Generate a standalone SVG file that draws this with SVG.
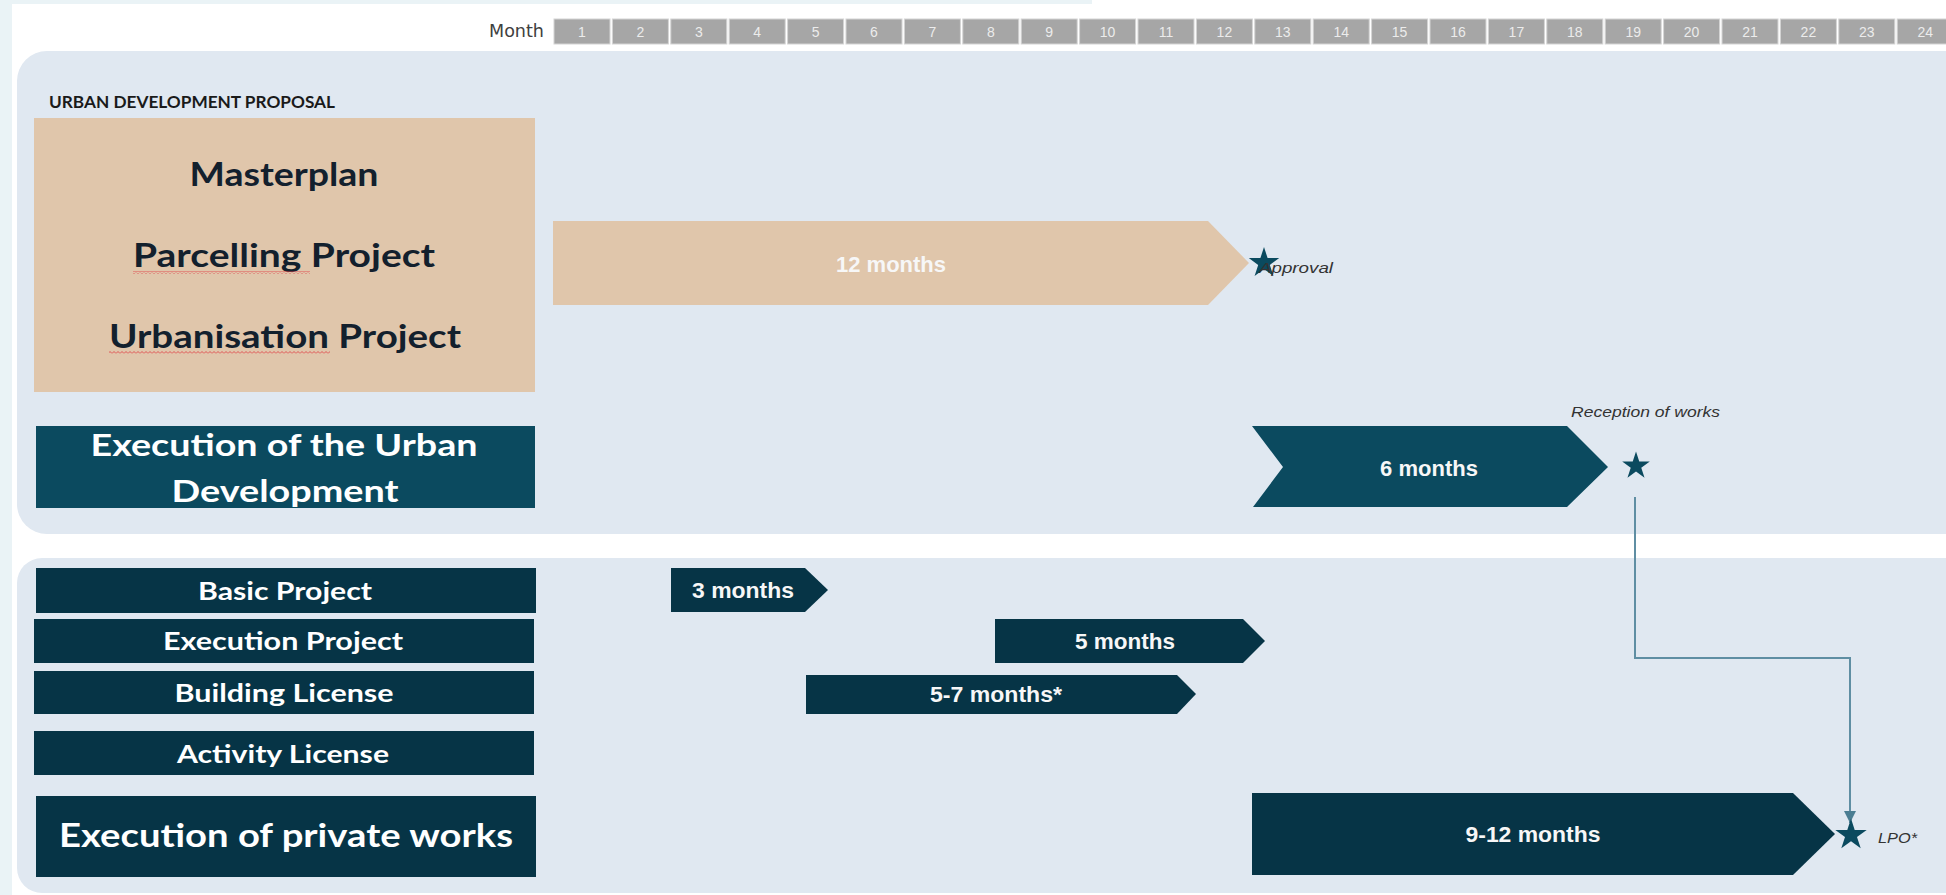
<svg xmlns="http://www.w3.org/2000/svg" width="1946" height="895" viewBox="0 0 1946 895">
<style>
.panel{fill:#e0e8f1}
.mbox{fill:#a6a6a6;stroke:#d4d4d4;stroke-width:1}
.mnum{font-family:"Liberation Sans",Arial,sans-serif;font-size:14px;fill:#ececec;text-anchor:middle}
.lbl{font-family:Lato,"Open Sans",sans-serif;font-weight:bold;text-anchor:middle}
.dark{fill:#063446}
.teal{fill:#0b4a5f}
.tan{fill:#e0c6ab}
.wt{fill:#ffffff}
.bt{fill:#13202d}
.bar{font-family:"Liberation Sans",Arial,sans-serif;font-weight:bold;font-size:22px;fill:#f7f7f7;text-anchor:middle}
.note{font-family:"Liberation Sans",Arial,sans-serif;font-style:italic;font-size:15px;fill:#333333}
.star{fill:#0b4a5f}
.conn{fill:none;stroke:#5f8ea3;stroke-width:2}
</style>
<defs>
<path id="starShape" d="M0,-10 L2.245,-3.09 L9.511,-3.09 L3.633,1.18 L5.878,8.09 L0,3.82 L-5.878,8.09 L-3.633,1.18 L-9.511,-3.09 L-2.245,-3.09 Z"/>
<marker id="arr" markerUnits="userSpaceOnUse" markerWidth="12" markerHeight="12" refX="12" refY="6" orient="auto">
<path d="M0,0 L12,6 L0,12 Z" fill="#4a7d92"/>
</marker>
<pattern id="squig" patternUnits="userSpaceOnUse" width="4" height="3">
<path d="M0,2.5 L2,0.5 L4,2.5" fill="none" stroke="#e0474a" stroke-width="0.9"/>
</pattern>
</defs>
<rect x="0" y="0" width="1946" height="895" fill="#ffffff"/>
<rect x="0" y="0" width="1092" height="4" fill="#eaf3f6"/>
<rect x="0" y="0" width="12" height="895" fill="#eaf3f6"/>
<rect class="panel" x="17" y="51" width="1960" height="483" rx="30" ry="30"/>
<rect class="panel" x="17" y="558" width="1960" height="335" rx="25" ry="25"/>

<g id="months">
<text x="544" y="37" text-anchor="end" font-family="'DejaVu Sans Condensed','Liberation Sans',sans-serif" font-size="18" fill="#404040" textLength="55" lengthAdjust="spacingAndGlyphs">Month</text>
<rect class="mbox" x="554" y="19" width="56" height="25"/><text class="mnum" x="582" y="37">1</text>
<rect class="mbox" x="612.4" y="19" width="56" height="25"/><text class="mnum" x="640.4" y="37">2</text>
<rect class="mbox" x="670.8" y="19" width="56" height="25"/><text class="mnum" x="698.8" y="37">3</text>
<rect class="mbox" x="729.2" y="19" width="56" height="25"/><text class="mnum" x="757.2" y="37">4</text>
<rect class="mbox" x="787.6" y="19" width="56" height="25"/><text class="mnum" x="815.6" y="37">5</text>
<rect class="mbox" x="846" y="19" width="56" height="25"/><text class="mnum" x="874" y="37">6</text>
<rect class="mbox" x="904.4" y="19" width="56" height="25"/><text class="mnum" x="932.4" y="37">7</text>
<rect class="mbox" x="962.8" y="19" width="56" height="25"/><text class="mnum" x="990.8" y="37">8</text>
<rect class="mbox" x="1021.2" y="19" width="56" height="25"/><text class="mnum" x="1049.2" y="37">9</text>
<rect class="mbox" x="1079.6" y="19" width="56" height="25"/><text class="mnum" x="1107.6" y="37">10</text>
<rect class="mbox" x="1138" y="19" width="56" height="25"/><text class="mnum" x="1166" y="37">11</text>
<rect class="mbox" x="1196.4" y="19" width="56" height="25"/><text class="mnum" x="1224.4" y="37">12</text>
<rect class="mbox" x="1254.8" y="19" width="56" height="25"/><text class="mnum" x="1282.8" y="37">13</text>
<rect class="mbox" x="1313.2" y="19" width="56" height="25"/><text class="mnum" x="1341.2" y="37">14</text>
<rect class="mbox" x="1371.6" y="19" width="56" height="25"/><text class="mnum" x="1399.6" y="37">15</text>
<rect class="mbox" x="1430" y="19" width="56" height="25"/><text class="mnum" x="1458" y="37">16</text>
<rect class="mbox" x="1488.4" y="19" width="56" height="25"/><text class="mnum" x="1516.4" y="37">17</text>
<rect class="mbox" x="1546.8" y="19" width="56" height="25"/><text class="mnum" x="1574.8" y="37">18</text>
<rect class="mbox" x="1605.2" y="19" width="56" height="25"/><text class="mnum" x="1633.2" y="37">19</text>
<rect class="mbox" x="1663.6" y="19" width="56" height="25"/><text class="mnum" x="1691.6" y="37">20</text>
<rect class="mbox" x="1722" y="19" width="56" height="25"/><text class="mnum" x="1750" y="37">21</text>
<rect class="mbox" x="1780.4" y="19" width="56" height="25"/><text class="mnum" x="1808.4" y="37">22</text>
<rect class="mbox" x="1838.8" y="19" width="56" height="25"/><text class="mnum" x="1866.8" y="37">23</text>
<rect class="mbox" x="1897.2" y="19" width="56" height="25"/><text class="mnum" x="1925.2" y="37">24</text>
</g>

<g id="section-title">
<text x="49" y="108" font-family="Lato,'Open Sans',sans-serif" font-weight="bold" font-size="17" fill="#1a1a1a" textLength="286" lengthAdjust="spacingAndGlyphs">URBAN DEVELOPMENT PROPOSAL</text>
</g>

<g id="node-proposal">
<rect class="tan" x="34" y="118" width="501" height="274"/>
<text class="lbl bt" x="284" y="186" font-size="33" textLength="189" lengthAdjust="spacingAndGlyphs">Masterplan</text>
<text class="lbl bt" x="284" y="267" font-size="33" textLength="302" lengthAdjust="spacingAndGlyphs">Parcelling Project</text>
<text class="lbl bt" x="285" y="348" font-size="33" textLength="352" lengthAdjust="spacingAndGlyphs">Urbanisation Project</text>
<rect x="133" y="271" width="177" height="3" fill="url(#squig)"/>
<rect x="109" y="351" width="221" height="3" fill="url(#squig)"/>
</g>

<g id="node-exec-urban">
<rect class="teal" x="36" y="426" width="499" height="82"/>
<text class="lbl wt" x="284" y="456" font-size="31" textLength="387" lengthAdjust="spacingAndGlyphs">Execution of the Urban</text>
<text class="lbl wt" x="285" y="502" font-size="31" textLength="227" lengthAdjust="spacingAndGlyphs">Development</text>
</g>

<g id="node-basic">
<rect class="dark" x="36" y="568" width="500" height="45"/>
<text class="lbl wt" x="285" y="600" font-size="24" textLength="174" lengthAdjust="spacingAndGlyphs">Basic Project</text>
</g>
<g id="node-execproj">
<rect class="dark" x="34" y="619" width="500" height="44"/>
<text class="lbl wt" x="283" y="650" font-size="24" textLength="240" lengthAdjust="spacingAndGlyphs">Execution Project</text>
</g>
<g id="node-building">
<rect class="dark" x="34" y="671" width="500" height="43"/>
<text class="lbl wt" x="284" y="702" font-size="24" textLength="219" lengthAdjust="spacingAndGlyphs">Building License</text>
</g>
<g id="node-activity">
<rect class="dark" x="34" y="731" width="500" height="44"/>
<text class="lbl wt" x="283" y="763" font-size="24" textLength="212" lengthAdjust="spacingAndGlyphs">Activity License</text>
</g>
<g id="node-private">
<rect class="dark" x="36" y="796" width="500" height="81"/>
<text class="lbl wt" x="286" y="847" font-size="32" textLength="454" lengthAdjust="spacingAndGlyphs">Execution of private works</text>
</g>

<g id="bar-12">
<polygon class="tan" points="553,221 1208,221 1249,263 1208,305 553,305"/>
<text class="bar" x="891" y="272" font-size="23">12 months</text>
</g>
<g id="milestone-approval">
<use href="#starShape" class="star" transform="translate(1264,263) scale(1.6)"/>
<text class="note" x="1259" y="273" font-size="16" textLength="74" lengthAdjust="spacingAndGlyphs" fill="#222">Approval</text>
</g>

<g id="bar-6">
<polygon class="teal" points="1252,426 1567,426 1608,467 1567,507 1253,507 1283,467"/>
<text class="bar" x="1429" y="476" font-size="23">6 months</text>
</g>
<g id="milestone-reception">
<text class="note" x="1571" y="417" textLength="149" lengthAdjust="spacingAndGlyphs">Reception of works</text>
<use href="#starShape" class="star" transform="translate(1636,466) scale(1.45)"/>
</g>

<g id="bar-3">
<polygon class="dark" points="671,568 805,568 828,590 805,612 671,612"/>
<text class="bar" x="743" y="598" textLength="102" lengthAdjust="spacingAndGlyphs">3 months</text>
</g>
<g id="bar-5">
<polygon class="dark" points="995,619 1243,619 1265,641 1243,663 995,663"/>
<text class="bar" x="1125" y="649" textLength="100" lengthAdjust="spacingAndGlyphs">5 months</text>
</g>
<g id="bar-5-7">
<polygon class="dark" points="806,675 1177,675 1196,694 1177,714 806,714"/>
<text class="bar" x="996" y="702" textLength="132" lengthAdjust="spacingAndGlyphs">5-7 months*</text>
</g>
<g id="bar-9-12">
<polygon class="dark" points="1252,793 1793,793 1835,834 1793,875 1252,875"/>
<text class="bar" x="1533" y="842" textLength="135" lengthAdjust="spacingAndGlyphs">9-12 months</text>
</g>

<g id="connectors">
<path class="conn" d="M1635,497 V658 H1850 V823" marker-end="url(#arr)"/>
</g>

<g id="milestone-lpo">
<use href="#starShape" class="star" transform="translate(1851,835) scale(1.65)"/>
<text class="note" x="1878" y="843" font-size="14" fill="#444" textLength="39" lengthAdjust="spacingAndGlyphs">LPO*</text>
</g>
</svg>
